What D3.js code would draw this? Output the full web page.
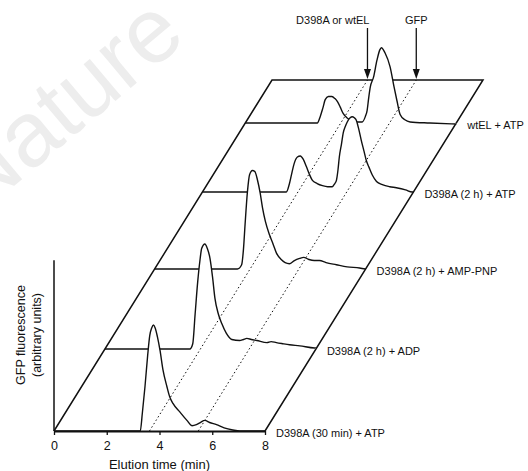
<!DOCTYPE html>
<html>
<head>
<meta charset="utf-8">
<script src="https://cdn.jsdelivr.net/npm/d3@7"></script>
<style>
  body { margin: 0; background: #fff; }
  text { font-family: "Liberation Sans", Arial, sans-serif; fill: #111; }
</style>
</head>
<body>
<svg id="chart" width="528" height="471"></svg>
<script>
// ---- data (elution time in min, GFP fluorescence in arbitrary units) ----
const traceLabels = [
  "D398A (30 min) + ATP",
  "D398A (2 h) + ADP",
  "D398A (2 h) + AMP-PNP",
  "D398A (2 h) + ATP",
  "wtEL + ATP"
];
const trace30minATP = [[0,0],[3.27,0],[3.35,17],[3.45,42],[3.55,71],[3.63,90],[3.7,97],[3.77,100],[3.84,97],[3.92,89],[4.02,76],[4.13,58],[4.28,42],[4.39,32],[4.51,26],[4.77,18],[5.04,10],[5.23,5],[5.4,6],[5.55,8],[5.72,10],[5.9,8],[6.16,6],[6.45,3],[6.78,1],[7.05,0],[8,0]];
const traceADP = [[0,0],[3.22,0],[3.33,5],[3.42,33],[3.52,64],[3.6,83],[3.67,95],[3.79,99],[3.88,95],[3.98,86],[4.08,68],[4.17,48],[4.3,33],[4.43,24],[4.6,15],[4.81,9],[5.11,8],[5.25,9],[5.38,10],[5.55,9],[5.76,8],[6.14,6],[6.3,7],[6.5,6],[6.74,5],[7.0,4],[7.39,3],[7.95,1],[8,1]];
const traceAMPPNP = [[0,0],[3.14,0],[3.3,4],[3.37,19],[3.43,42],[3.52,73],[3.6,89],[3.71,93],[3.8,92],[3.9,84],[4.0,72],[4.09,58],[4.2,45],[4.36,32],[4.5,23],[4.62,15],[4.8,9],[4.95,6],[5.11,5],[5.3,8],[5.5,10],[5.65,11],[5.85,9],[6.05,8],[6.25,8],[6.5,6],[6.89,4],[7.3,2],[7.77,1],[8,0]];
const trace2hATP = [[0,0],[3.18,0],[3.3,8],[3.4,19],[3.48,27],[3.6,33],[3.71,34],[3.82,31],[3.94,24],[4.05,17],[4.17,11],[4.35,8],[4.55,6],[4.75,5],[4.92,5],[5.02,8],[5.08,11],[5.14,21],[5.19,33],[5.27,45],[5.34,56],[5.42,62],[5.49,66],[5.6,70],[5.68,71],[5.76,70],[5.83,68],[5.92,60],[6.02,49],[6.12,39],[6.21,30],[6.32,23],[6.44,16],[6.6,10],[6.82,7],[7.1,5],[7.35,4],[7.7,2],[7.95,0],[8,0]];
const traceWtEL = [[0,0],[2.73,0],[2.84,6],[2.94,14],[3.03,22],[3.15,25],[3.28,25],[3.4,23],[3.5,20],[3.6,15],[3.71,9],[3.85,5],[3.98,3],[4.24,1],[4.43,1],[4.55,6],[4.62,12],[4.68,24],[4.74,34],[4.86,43],[4.99,59],[5.1,69],[5.16,71],[5.3,66],[5.49,53],[5.64,34],[5.75,21],[5.87,8],[6.05,3],[6.25,1],[7.0,0],[8,-1]];
const traces = [trace30minATP, traceADP, traceAMPPNP, trace2hATP, traceWtEL];

const xTicks = [0, 2, 4, 6, 8];
const markerLabels = ["D398A or wtEL", "GFP"];
const markerTimes = [3.62, 5.47];

// ---- layout ----
const svg = d3.select("#chart");
const depthLevels = [0, 0.2336, 0.4615, 0.6809, 0.8775]; // where each trace sits on the depth axis

const x = d3.scaleLinear().domain([0, 8]).range([54, 265]);
const depthX = d3.scaleLinear().domain([0, 1]).range([0, 218]);
const depthY = d3.scaleLinear().domain([0, 1]).range([431, 80]);
const signal = d3.scaleLinear().domain([0, 100]).range([0, 106]);

const px = (t, d) => x(t) + depthX(d);
const py = (v, d) => depthY(d) - signal(v);

// watermark
svg.append("text")
  .attr("transform", "translate(-23,217) rotate(-40)")
  .style("font-size", "92px")
  .style("fill", "#ededed")
  .text("Nature");

// frame (left, top, right edges)
svg.append("path")
  .attr("d", d3.line()([[px(0, 0), depthY(0)], [px(0, 1), depthY(1)], [px(8, 1), depthY(1)], [px(8, 0), depthY(0)]]))
  .attr("fill", "none")
  .attr("stroke", "#111")
  .attr("stroke-width", 1.5);

// traces, back to front, each hiding what lies behind it
const order = d3.range(traces.length).reverse();
order.forEach(i => {
  const d = depthLevels[i];
  const g = svg.append("g");
  g.append("path")
    .datum(traces[i])
    .attr("d", d3.area()
      .x(p => px(p[0], d))
      .y0(depthY(d))
      .y1(p => py(p[1], d))
      .curve(d3.curveMonotoneX))
    .attr("fill", "#fff");
  g.append("path")
    .datum(traces[i])
    .attr("d", d3.line()
      .x(p => px(p[0], d))
      .y(p => py(p[1], d))
      .curve(d3.curveMonotoneX))
    .attr("fill", "none")
    .attr("stroke", "#111")
    .attr("stroke-width", 1.4);
  svg.append("text")
    .attr("x", px(8, d) + 11)
    .attr("y", depthY(d) + 2)
    .attr("dy", "0.35em")
    .style("font-size", "11px")
    .text(traceLabels[i]);
});

// dotted guide lines and arrows
markerTimes.forEach((m, k) => {
  svg.append("line")
    .attr("x1", px(m, 0)).attr("y1", depthY(0))
    .attr("x2", px(m, 1)).attr("y2", depthY(1))
    .attr("stroke", "#111")
    .attr("stroke-width", 1)
    .attr("stroke-dasharray", "1.5,2.5");
  const ax = px(m, 1), tip = depthY(1) - 1;
  svg.append("line")
    .attr("x1", ax).attr("y1", 28)
    .attr("x2", ax).attr("y2", tip - 6)
    .attr("stroke", "#111")
    .attr("stroke-width", 1.3);
  svg.append("path")
    .attr("d", `M${ax - 3.5},${tip - 10}L${ax + 3.5},${tip - 10}L${ax},${tip}Z`)
    .attr("fill", "#111");
  svg.append("text")
    .attr("x", k === 0 ? ax + 2 : ax)
    .attr("y", 24)
    .attr("text-anchor", k === 0 ? "end" : "middle")
    .style("font-size", "11px")
    .text(markerLabels[k]);
});

// x axis
const xAxis = svg.append("g")
  .attr("transform", `translate(0,${depthY(0)})`)
  .call(d3.axisBottom(x).tickValues(xTicks).tickSize(4).tickSizeOuter(0).tickPadding(6));
xAxis.select(".domain").attr("stroke", "#111").attr("stroke-width", 2);
xAxis.selectAll(".tick line").attr("stroke", "#111").attr("stroke-width", 1.3);
xAxis.selectAll(".tick text")
  .style("font-family", "'Liberation Sans', Arial, sans-serif")
  .style("font-size", "12.5px")
  .attr("fill", "#111");

svg.append("text")
  .attr("x", x(4))
  .attr("y", 469)
  .attr("text-anchor", "middle")
  .style("font-size", "13px")
  .text("Elution time (min)");

// y axis (no ticks)
svg.append("line")
  .attr("x1", x(0)).attr("x2", x(0))
  .attr("y1", depthY(0)).attr("y2", depthY(0) - signal(161))
  .attr("stroke", "#111")
  .attr("stroke-width", 1.5);

svg.append("text")
  .attr("transform", "translate(25,335) rotate(-90)")
  .attr("text-anchor", "middle")
  .style("font-size", "12.5px")
  .text("GFP fluorescence");
svg.append("text")
  .attr("transform", "translate(41,335) rotate(-90)")
  .attr("text-anchor", "middle")
  .style("font-size", "12.5px")
  .text("(arbitrary units)");
</script>
</body>
</html>
